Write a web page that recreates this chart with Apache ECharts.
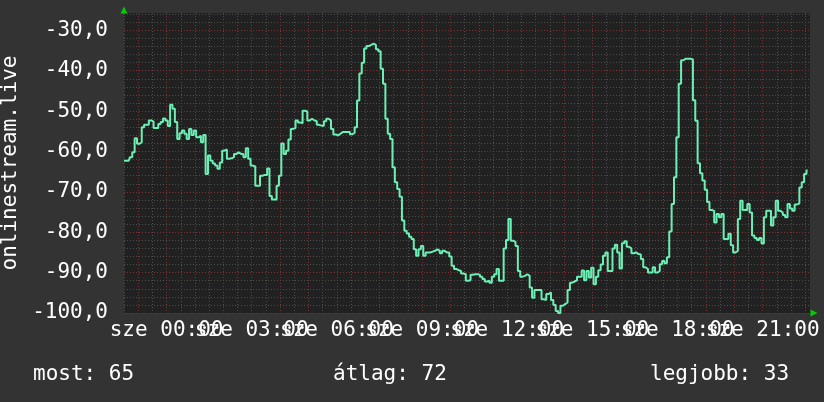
<!DOCTYPE html>
<html>
<head>
<meta charset="utf-8">
<script src="https://cdn.jsdelivr.net/npm/echarts@6/dist/echarts.min.js"></script>
<style>
html,body{margin:0;padding:0;background:#333333;}
#chart{width:824px;height:402px;}
</style>
</head>
<body>
<div id="chart"></div>
<script>
// time categories: every 5 minutes from 22:30 (previous day) to 22:40
const startMinute = -90;
const stepMinutes = 5;
const categoryCount = 291;
const times = [];
for (let k = 0; k < categoryCount; k++) {
  let m = startMinute + k * stepMinutes;
  m = ((m % 1440) + 1440) % 1440;
  const hh = String(Math.floor(m / 60)).padStart(2, '0');
  const mm = String(m % 60).padStart(2, '0');
  times.push(hh + ':' + mm);
}

// tick labels shown on the time axis (every 3 hours)
const labelTimesA = ['00:00', '06:00', '12:00', '18:00'];
const labelTimesB = ['03:00', '09:00', '15:00', '21:00'];

// measured values, one per 5-minute step
const values = [
  -62.3,-62.3,-62.3,-61.4,-60.2,-56.7,-58.1,-57.7,-54.0,-53.4,
  -53.4,-52.3,-52.6,-54.2,-54.2,-53.2,-52.7,-51.8,-52.3,-53.7,
  -48.4,-49.4,-52.7,-56.9,-55.5,-54.8,-55.6,-56.9,-54.4,-55.9,
  -54.8,-56.5,-56.1,-57.7,-55.9,-65.6,-61.0,-62.3,-63.0,-63.5,
  -64.3,-62.7,-59.8,-59.5,-61.8,-61.7,-61.4,-60.6,-60.2,-60.6,
  -60.6,-61.4,-59.2,-61.8,-63.5,-63.7,-68.5,-68.5,-66.0,-65.8,
  -65.8,-64.2,-71.0,-71.9,-71.9,-68.5,-66.0,-58.0,-60.6,-59.8,
  -57.0,-54.4,-54.2,-52.3,-52.8,-53.0,-49.9,-50.1,-52.3,-51.9,
  -52.3,-52.5,-53.4,-53.6,-53.6,-52.5,-51.9,-52.3,-54.4,-55.8,
  -56.0,-55.6,-55.2,-55.2,-55.2,-55.2,-55.7,-55.4,-54.0,-47.4,
  -40.7,-38.0,-34.5,-33.9,-33.6,-33.3,-33.6,-34.7,-35.2,-39.5,
  -43.2,-51.9,-55.6,-56.9,-63.9,-67.6,-69.3,-71.2,-77.1,-79.6,
  -80.3,-81.1,-81.7,-84.2,-85.8,-84.2,-83.4,-85.8,-85.0,-85.0,
  -84.8,-84.6,-84.2,-84.6,-85.2,-84.6,-85.0,-85.0,-86.0,-88.3,
  -89.1,-89.4,-89.6,-90.2,-90.4,-92.0,-91.9,-90.5,-90.4,-90.4,
  -90.5,-91.0,-91.6,-92.2,-92.0,-92.5,-91.0,-90.4,-89.1,-92.0,
  -92.0,-84.0,-81.9,-76.7,-82.1,-82.4,-83.4,-89.6,-91.0,-90.8,
  -90.4,-90.8,-93.7,-96.2,-94.3,-94.3,-94.3,-96.6,-96.8,-95.3,
  -94.9,-96.8,-98.0,-99.5,-100.0,-98.2,-97.8,-97.4,-94.3,-92.5,
  -92.2,-91.9,-91.0,-91.0,-89.5,-91.9,-89.6,-91.2,-88.8,-92.9,
  -91.0,-89.4,-88.0,-85.8,-85.0,-89.6,-89.6,-84.0,-83.1,-85.0,
  -89.0,-82.7,-82.2,-83.6,-84.0,-85.2,-85.0,-85.4,-85.5,-86.6,
  -88.7,-89.1,-90.0,-90.0,-88.7,-90.0,-89.6,-87.9,-87.1,-87.7,
  -86.2,-79.8,-73.0,-66.4,-56.5,-43.2,-37.4,-37.0,-37.0,-37.0,
  -37.2,-47.3,-52.4,-62.9,-65.4,-67.2,-69.5,-72.5,-74.5,-74.7,
  -77.6,-75.5,-76.3,-75.5,-81.7,-81.7,-80.4,-83.2,-85.0,-84.6,
  -76.7,-72.2,-74.5,-74.5,-73.0,-75.1,-80.8,-81.4,-81.9,-81.4,
  -82.8,-76.3,-74.7,-74.7,-78.3,-76.3,-72.2,-74.7,-75.1,-75.7,
  -76.3,-73.0,-74.1,-74.7,-73.1,-72.9,-68.9,-67.6,-65.6,-64.7
];

const yMin = -100;
const yMax = -25.7;
const yMajorStep = 10;
const yMinorStep = 2;
const dayPrefix = 'sze';
const yAxisTitle = 'onlinestream.live';
const statLabels = ['most: 65', 'átlag: 72', 'legjobb: 33'];

const FONT = 'DejaVu Sans Mono';
const GRAY = '#4e4e4e';
const RED = '#7e3333';
const GREEN = '#00cc00';

const labelStyle = {color: '#ffffff', fontFamily: FONT, fontSize: 21, margin: 7,
  showMinLabel: null, showMaxLabel: null, hideOverlap: false,
  formatter: (v) => dayPrefix + ' ' + v};

const chart = echarts.init(document.getElementById('chart'), null, {renderer: 'canvas'});

const option = {
  backgroundColor: '#333333',
  animation: false,
  title: [
    {text: statLabels[0], left: 33, top: 364},
    {text: statLabels[1], left: 333, top: 364},
    {text: statLabels[2], left: 650, top: 364}
  ].map(t => Object.assign(t, {
    padding: 0,
    textStyle: {color: '#ffffff', fontFamily: FONT, fontSize: 21, fontWeight: 'normal'}
  })),
  grid: {
    left: 124, right: 14, top: 13, bottom: 89,
    containLabel: false, outerBoundsMode: 'none',
    show: true, backgroundColor: '#212121', borderWidth: 0
  },
  xAxis: [
    {
      type: 'category', data: times, boundaryGap: false, position: 'bottom',
      axisLine: {show: false}, axisTick: {show: false},
      axisLabel: Object.assign({}, labelStyle, {
        interval: (i, v) => labelTimesB.indexOf(v) >= 0 && i > 0
      }),
      splitLine: {show: true, interval: (i) => i % 12 === 0,
        lineStyle: {color: GRAY, width: 1, type: [1, 2]}}
    },
    {
      type: 'category', data: times, boundaryGap: false, position: 'bottom',
      axisLine: {show: true, symbol: ['none', 'triangle'], symbolSize: [7, 7], symbolOffset: [0, 4],
        lineStyle: {color: GREEN, width: 0}},
      axisTick: {show: false},
      axisLabel: Object.assign({}, labelStyle, {
        interval: (i, v) => labelTimesA.indexOf(v) >= 0 && i > 0
      }),
      splitLine: {show: true, interval: (i) => i % 12 === 6,
        lineStyle: {color: RED, width: 1, type: [1, 2]}}
    }
  ],
  yAxis: [
    {
      type: 'value', min: yMin, max: yMax, interval: yMinorStep, position: 'left',
      axisLine: {show: false}, axisTick: {show: false}, axisLabel: {show: false},
      splitLine: {show: true, showMaxLine: false, lineStyle: {color: GRAY, width: 1, type: [1, 2]}}
    },
    {
      type: 'value', min: yMin, max: yMax, interval: yMajorStep, position: 'left',
      name: yAxisTitle, nameLocation: 'middle', nameGap: 102, nameRotate: 90,
      nameTextStyle: {color: '#ffffff', fontFamily: FONT, fontSize: 21},
      axisLine: {show: true, symbol: ['none', 'triangle'], symbolSize: [7, 7], symbolOffset: [0, 3],
        lineStyle: {color: GREEN, width: 0}},
      axisTick: {show: false},
      axisLabel: {
        showMaxLabel: false, showMinLabel: true,
        formatter: (v) => (Math.abs(v % 10) < 1e-6 ? v.toFixed(1).replace('.', ',') : ''),
        color: '#ffffff', fontFamily: FONT, fontSize: 21, margin: 16
      },
      splitLine: {show: true, showMaxLine: false, lineStyle: {color: RED, width: 1, type: [1, 2]}}
    }
  ],
  series: [
    {
      type: 'line', xAxisIndex: 1, yAxisIndex: 1,
      data: values, step: 'middle', showSymbol: false, symbol: 'none',
      lineStyle: {color: '#6cefb4', width: 2}, z: 5
    }
  ]
};
chart.setOption(option);
</script>
</body>
</html>
